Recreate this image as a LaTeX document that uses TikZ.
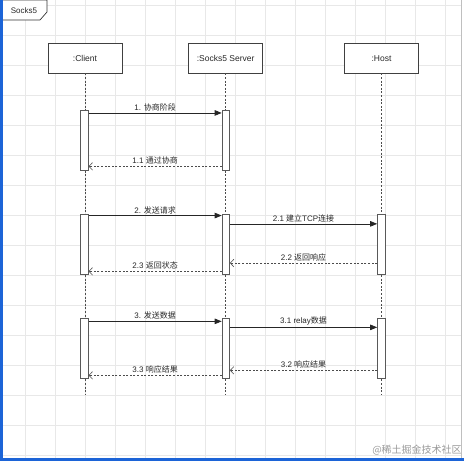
\documentclass[tikz,border=0pt]{standalone}
\usepackage{fontspec}
\setmainfont{Liberation Sans}
\newfontfamily\cjk{Noto Sans CJK SC}
\usetikzlibrary{arrows.meta,positioning}
\definecolor{selblue}{RGB}{28,100,215}
\definecolor{txtgray}{RGB}{40,40,40}

\tikzset{
  head/.style={draw=black!75, line width=0.7pt, fill=white, minimum width=74pt,
    minimum height=29.5pt, inner sep=0pt, text=txtgray, font=\fontsize{8.5}{10}\selectfont},
  actbar/.style={draw=black!65, line width=0.7pt, fill=white, minimum width=7.5pt,
    minimum height=60pt, inner sep=0pt},
  life/.style={black!70, line width=0.7pt, dash pattern=on 2pt off 1.6pt},
  call/.style={-{Triangle[length=7pt,width=5.5pt]}, line width=0.7pt, black!85},
  reply/.style={-{Straight Barb[length=3.5pt,width=7.5pt]}, line width=0.6pt, black!70,
    dash pattern=on 2pt off 1.6pt},
  lbl/.style={above, inner sep=1.5pt, text=txtgray, font=\fontsize{8}{10}\selectfont},
  gridline/.style={black!9, line width=0.6pt}
}

\begin{document}
\begin{tikzpicture}[x=1pt, y=-1pt]
    \useasboundingbox (0,0) rectangle (464,461);
    % background grid
    \foreach \gx in {25,55,...,445} \draw[gridline] (\gx,0) -- (\gx,458);
    \foreach \gy in {5,35,...,455} \draw[gridline] (0,\gy) -- (461,\gy);
    \draw[black!25, line width=0.5pt] (461,0) -- (461,458);
    % frame label
    \filldraw[fill=white, draw=black!80, line width=0.7pt]
      (0,0) -- (47,0) -- (47,12) -- (40,20) -- (0,20);
    \node[text=txtgray, font=\fontsize{8}{10}\selectfont] (frame) at (24,10.5) {Socks5};
    % participants
    \node[head] (client) at (85,58.3) {:Client};
    \node[head] (server) at (225.7,58.3) {:Socks5 Server};
    \node[head] (host) at (381.5,58.3) {:Host};
    \coordinate (clientend) at (85,395);
    \coordinate (serverend) at (225.7,395);
    \coordinate (hostend) at (381.5,395);
    \draw[life] (client) -- (clientend);
    \draw[life] (server) -- (serverend);
    \draw[life] (host) -- (hostend);
    % activations
    \node[actbar] (c1) at (84.5,140) {};
    \node[actbar] (s1) at (225.8,140) {};
    \node[actbar] (c2) at (84.5,244.2) {};
    \node[actbar] (s2) at (225.8,244.2) {};
    \node[actbar] (h2) at (381.3,244.2) {};
    \node[actbar] (c3) at (84.5,348.3) {};
    \node[actbar] (s3) at (225.8,348.3) {};
    \node[actbar] (h3) at (381.3,348.3) {};
    % phase 1
    \draw[call] ([yshift=-3.3pt]c1.north east) -- node[lbl]{1. {\cjk 协商阶段}} ([yshift=-3.3pt]s1.north west);
    \draw[reply] ([yshift=4pt]s1.south west) -- node[lbl]{1.1 {\cjk 通过协商}} ([yshift=4pt]c1.south east);
    % phase 2
    \draw[call] ([yshift=-1.7pt]c2.north east) -- node[lbl]{2. {\cjk 发送请求}} ([yshift=-1.7pt]s2.north west);
    \draw[call] ([yshift=-10pt]s2.north east) -- node[lbl]{2.1 {\cjk 建立}TCP{\cjk 连接}} ([yshift=-10pt]h2.north west);
    \draw[reply] ([yshift=11.5pt]h2.south west) -- node[lbl]{2.2 {\cjk 返回响应}} ([yshift=11.5pt]s2.south east);
    \draw[reply] ([yshift=3.2pt]s2.south west) -- node[lbl]{2.3 {\cjk 返回状态}} ([yshift=3.2pt]c2.south east);
    % phase 3
    \draw[call] ([yshift=-3.4pt]c3.north east) -- node[lbl]{3. {\cjk 发送数据}} ([yshift=-3.4pt]s3.north west);
    \draw[call] ([yshift=-9.4pt]s3.north east) -- node[lbl]{3.1 relay{\cjk 数据}} ([yshift=-9.4pt]h3.north west);
    \draw[reply] ([yshift=8.3pt]h3.south west) -- node[lbl]{3.2 {\cjk 响应结果}} ([yshift=8.3pt]s3.south east);
    \draw[reply] ([yshift=3.3pt]s3.south west) -- node[lbl]{3.3 {\cjk 响应结果}} ([yshift=3.3pt]c3.south east);
    % watermark and screenshot edge
    \node[text=black!40, font=\cjk\fontsize{10}{12}\selectfont] (mark) at (417,450) {@稀土掘金技术社区};
    \fill[selblue] (0,0) rectangle (3,461);
    \fill[selblue] (0,458) rectangle (464,461);
\end{tikzpicture}
\end{document}
